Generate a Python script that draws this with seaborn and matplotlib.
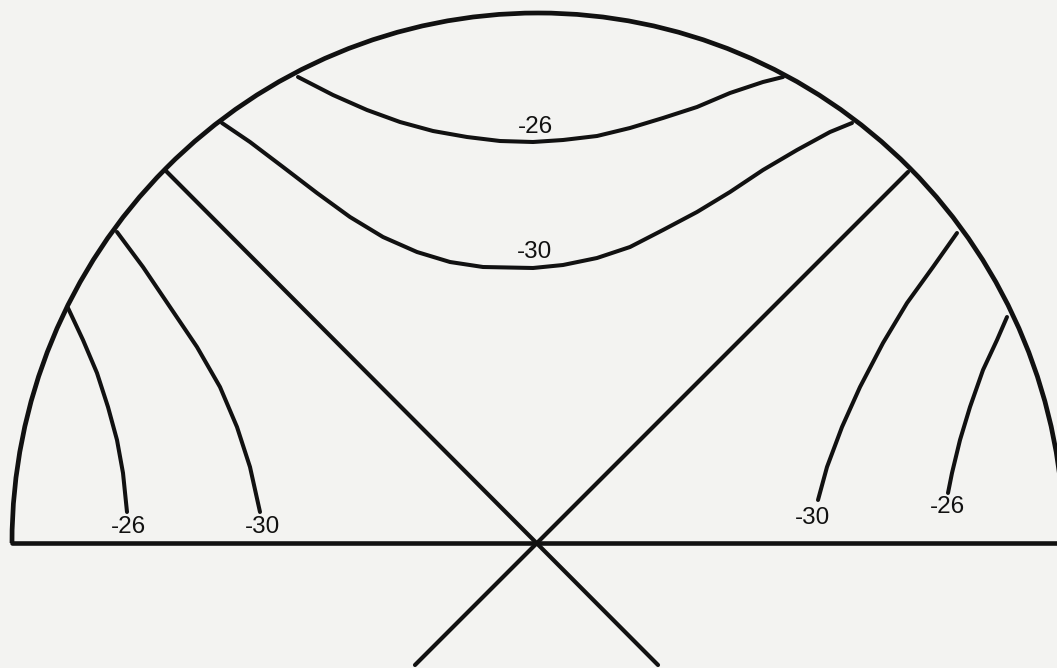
import numpy as np
import pandas as pd
import matplotlib
matplotlib.use("Agg")
import matplotlib.pyplot as plt
from matplotlib.patches import Arc
import seaborn as sns

# Drawing units: origin at the crossing point on the base line, y upwards.
# Upper contour, level -26
top26_x = [-238, -203, -169, -136, -103, -69, -36, -3, 27, 61, 94, 127, 161, 194, 227, 247]
top26_y = [466, 448, 433, 421, 412, 406, 402, 401, 403, 407, 415, 425, 436, 450, 461, 466]
# Upper contour, level -30
top30_x = [-314, -286, -253, -219, -186, -153, -119, -86, -53, -3,
           27, 61, 94, 127, 161, 194, 227, 261, 294, 316]
top30_y = [420, 401, 376, 350, 326, 306, 291, 281, 276, 275,
           278, 285, 296, 313, 331, 351, 373, 393, 411, 420]
# Left contours
left26_x = [-468, -453, -439, -428, -419, -413, -409]
left26_y = [235, 203, 170, 136, 103, 70, 31]
left30_x = [-419, -393, -366, -339, -316, -299, -286, -276]
left30_y = [311, 276, 236, 196, 156, 116, 76, 31]
# Right contours
right30_x = [421, 397, 371, 347, 324, 306, 291, 282]
right30_y = [310, 276, 240, 200, 156, 116, 76, 43]
right26_x = [471, 461, 447, 434, 424, 416, 412]
right26_y = [226, 203, 173, 136, 103, 70, 50]

# Diagonal cross through the origin
diag_a_x = [-371, 122]
diag_a_y = [373, -122]
diag_b_x = [372, -121]
diag_b_y = [371, -122]
# Base line
base_x = [-524, 540]
base_y = [0, 0]

# Contour labels
label_text = ["-26", "-30", "-26", "-30", "-30", "-26"]
label_x = [-1, -1, -408, -274, 277, 411]
label_y = [416, 291, 16, 16, 25, 36]

curves = [
    (top26_x, top26_y), (top30_x, top30_y),
    (left26_x, left26_y), (left30_x, left30_y),
    (right30_x, right30_y), (right26_x, right26_y),
]

bg = "#f3f3f1"
ink = "#111111"

sns.set_theme(style="white")
plt.rcParams["font.family"] = ["Liberation Sans", "DejaVu Sans"]

fig = plt.figure(figsize=(10.57, 6.68), dpi=100, facecolor=bg)
ax = fig.add_axes([0, 0, 1, 1])
ax.set_facecolor(bg)

frames = []
for i, (cx, cy) in enumerate(curves):
    frames.append(pd.DataFrame({"x": cx, "y": cy, "curve": f"c{i}"}))
contours = pd.concat(frames, ignore_index=True)
sns.lineplot(data=contours, x="x", y="y", units="curve", estimator=None,
             sort=False, color=ink, lw=2.9, ax=ax, legend=False)

for lx, ly in [(diag_a_x, diag_a_y), (diag_b_x, diag_b_y)]:
    sns.lineplot(x=lx, y=ly, sort=False, estimator=None, color=ink, lw=3.0, ax=ax)
sns.lineplot(x=base_x, y=base_y, sort=False, estimator=None, color=ink, lw=3.3, ax=ax)

# Semicircular boundary
ax.add_patch(Arc((2, 0), 2 * 526, 2 * 530, theta1=0, theta2=180,
                 color=ink, lw=3.4))

for t, lx, ly in zip(label_text, label_x, label_y):
    ax.text(lx, ly, t, ha="center", va="center", fontsize=17.5, color=ink)

for line in ax.lines:
    line.set_solid_capstyle("round")
    line.set_solid_joinstyle("round")

ax.set_xlim(-536, 521)
ax.set_ylim(-125, 543)
ax.set_axis_off()

fig.savefig("out.png", dpi=100, facecolor=bg)
